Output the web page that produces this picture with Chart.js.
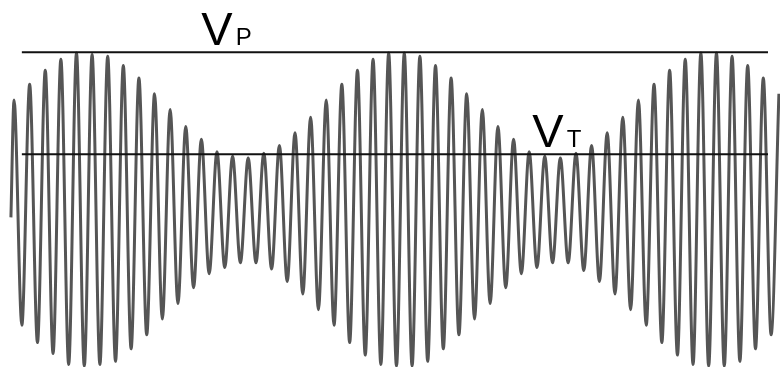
<!DOCTYPE html>
<html>
  <head>
    <meta charset="UTF-8">
    <title>Amplitude modulated wave</title>
    <script src="https://cdn.jsdelivr.net/npm/chart.js@4"></script>
    <style>
      body { margin: 0; background: #fff; }
      #wrap { width: 780px; height: 367px; position: relative; }
    </style>
  </head>
  <body>
    <div id='wrap'><canvas id='waveChart'></canvas></div>

    <script>
      // carrier crest / trough values, one per cycle (Vp = 1)
      const peakValues = [
        0.70, 0.80, 0.89, 0.96, 1.00, 0.99, 0.98, 0.92, 0.84, 0.74,
        0.64, 0.53, 0.45, 0.37, 0.34, 0.33, 0.36, 0.41, 0.49, 0.59,
        0.70, 0.80, 0.89, 0.96, 1.00, 1.00, 0.98, 0.92, 0.84, 0.74,
        0.64, 0.53, 0.45, 0.37, 0.34, 0.33, 0.36, 0.41, 0.49, 0.59,
        0.70, 0.80, 0.89, 0.96, 1.00, 1.00, 0.98, 0.92, 0.84, 0.74
      ];
      const troughValues = [
        -0.74, -0.85, -0.92, -0.99, -1.00, -0.99, -0.97, -0.89, -0.80, -0.70,
        -0.60, -0.50, -0.41, -0.37, -0.34, -0.34, -0.38, -0.46, -0.54, -0.64,
        -0.74, -0.85, -0.93, -0.99, -1.00, -1.00, -0.97, -0.89, -0.80, -0.70,
        -0.60, -0.50, -0.41, -0.37, -0.34, -0.34, -0.39, -0.46, -0.54, -0.64,
        -0.74, -0.85, -0.93, -0.99, -1.00, -1.00, -0.97, -0.89, -0.80
      ];
      const startPoint = { x: -0.2, y: -0.05 };

      // reference levels
      const levelNames = ['P', 'T'];
      const levelValues = [1.005, 0.353];
      const levelSpan = [0.5, 48.3];
      const labelAt = [12.0, 33.2];

      let wavePoints = [startPoint];
      for (let k = 0; k < peakValues.length; k++) {
        wavePoints.push({ x: k, y: peakValues[k] });
        if (k < troughValues.length) {
          wavePoints.push({ x: k + 0.5, y: troughValues[k] });
        }
      }

      let datasets = [];
      for (let i = 0; i < levelValues.length; i++) {
        datasets.push({
          data: levelSpan.map(t => ({ x: t, y: levelValues[i] })),
          borderColor: '#111',
          borderWidth: 2,
          pointRadius: 0,
        });
      }
      datasets.push({
        data: wavePoints,
        borderColor: '#555',
        borderWidth: 3,
        pointRadius: 0,
        cubicInterpolationMode: 'monotone',
      });

      const labelPlugin = {
        id: 'levelLabels',
        afterDatasetsDraw(chart) {
          const ctx = chart.ctx;
          const xs = chart.scales.x, ys = chart.scales.y;
          ctx.save();
          ctx.fillStyle = '#000';
          ctx.textBaseline = 'alphabetic';
          for (let i = 0; i < levelNames.length; i++) {
            let x = xs.getPixelForValue(labelAt[i]);
            let y = ys.getPixelForValue(levelValues[i]) - 7.5;
            ctx.font = '47px "Liberation Sans", Arial, sans-serif';
            ctx.fillText('V', x, y);
            let w = ctx.measureText('V').width;
            ctx.font = '24px "Liberation Sans", Arial, sans-serif';
            ctx.fillText(levelNames[i], x + w + 3, y);
          }
          ctx.restore();
        }
      };

      new Chart(document.getElementById('waveChart').getContext('2d'), {
        type: 'line',
        data: { datasets: datasets },
        options: {
          responsive: true,
          maintainAspectRatio: false,
          animation: false,
          layout: { padding: 0 },
          scales: {
            x: { type: 'linear', min: -0.9, max: 49.07, display: false },
            y: { min: -1.006, max: 1.339, display: false }
          },
          plugins: { legend: { display: false }, tooltip: { enabled: false } }
        },
        plugins: [labelPlugin]
      });
    </script>
  </body>
</html>
